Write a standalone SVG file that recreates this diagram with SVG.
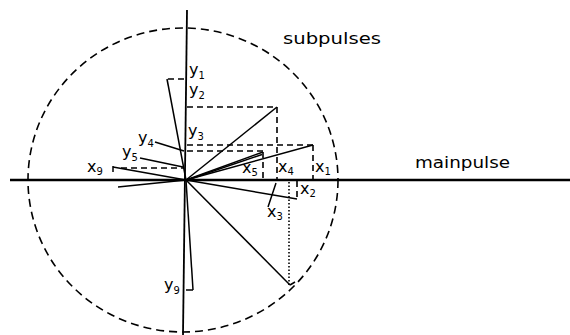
<svg xmlns="http://www.w3.org/2000/svg" width="570" height="335" viewBox="0 0 570 335">
<style>
.bg{fill:#fff}
.ax{stroke:#000;fill:none;stroke-linecap:butt}
.v{stroke:#000;stroke-width:1.5;fill:none}
.d{stroke:#000;stroke-width:1.6;fill:none;stroke-dasharray:6 4}
.o{stroke:#000;stroke-width:1.6;fill:none;stroke-dasharray:1.5 2}
.c{stroke:#000;stroke-width:1.6;fill:none;stroke-dasharray:8 5}
text{font-family:"DejaVu Sans","Liberation Sans",sans-serif;fill:#000}
.l{font-size:16px}
.s{font-size:10px}
.t{font-size:16px}
</style>
<rect class="bg" x="0" y="0" width="570" height="335"/>
<g id="circle"><ellipse class="c" cx="183" cy="180" rx="155" ry="152"/></g>
<g id="axes">
<line class="ax" x1="10" y1="180" x2="570" y2="180" stroke-width="2.6"/>
<line class="ax" x1="187" y1="10" x2="183" y2="335" stroke-width="1.8"/>
</g>
<g id="connectors">
<line class="v" x1="186" y1="180" x2="313" y2="145"/>
<line class="d" x1="187" y1="145" x2="313" y2="145"/>
<line class="d" x1="313" y1="145" x2="313" y2="180"/>
<line class="v" x1="186" y1="180" x2="277" y2="107"/>
<line class="d" x1="187" y1="107" x2="277" y2="107"/>
<line class="d" x1="277" y1="107" x2="277" y2="180"/>
<line class="v" x1="186" y1="180" x2="263" y2="152"/>
<line class="v" x1="190" y1="179" x2="262" y2="154.5" stroke-width="1.2"/>
<line class="d" x1="187" y1="151" x2="263" y2="151"/>
<line class="d" x1="263" y1="152" x2="263" y2="180"/>
<line class="v" x1="186" y1="180" x2="297" y2="199"/>
<line class="d" x1="297" y1="181" x2="297" y2="199"/>
<line class="v" x1="186" y1="180" x2="290" y2="285"/>
<line class="o" x1="289" y1="182" x2="289" y2="285"/>
<polyline class="v" points="290,285 295,282"/>
<line class="v" x1="268" y1="207" x2="276" y2="183" stroke-width="1.2"/>
<line class="v" x1="186" y1="180" x2="167" y2="79"/>
<line class="d" x1="168" y1="79" x2="186" y2="79"/>
<line class="v" x1="155" y1="142" x2="184" y2="151"/>
<line class="v" x1="140" y1="158" x2="183" y2="167"/>
<line class="v" x1="186" y1="180" x2="113" y2="167"/>
<line class="v" x1="113" y1="166" x2="113" y2="172"/>
<line class="d" x1="121" y1="168" x2="184" y2="168"/>
<line class="v" x1="186" y1="180" x2="118" y2="187"/>
<line class="v" x1="186" y1="180" x2="193" y2="290"/>
<line class="v" x1="186" y1="290" x2="193" y2="290"/>
</g>
<g id="labels">
<text class="t" x="283" y="44" textLength="98" lengthAdjust="spacingAndGlyphs">subpulses</text>
<text class="t" x="415" y="168" textLength="95" lengthAdjust="spacingAndGlyphs">mainpulse</text>
<text class="l" x="189" y="75">y<tspan class="s" dy="4">1</tspan></text>
<text class="l" x="189" y="95">y<tspan class="s" dy="4">2</tspan></text>
<text class="l" x="188" y="136">y<tspan class="s" dy="4">3</tspan></text>
<text class="l" x="138" y="143">y<tspan class="s" dy="4">4</tspan></text>
<text class="l" x="122" y="157">y<tspan class="s" dy="4">5</tspan></text>
<text class="l" x="164" y="290">y<tspan class="s" dy="4">9</tspan></text>
<text class="l" x="87" y="172">x<tspan class="s" dy="3">9</tspan></text>
<text class="l" x="242" y="173">x<tspan class="s" dy="3">5</tspan></text>
<text class="l" x="278" y="172">x<tspan class="s" dy="3">4</tspan></text>
<text class="l" x="315" y="172">x<tspan class="s" dy="3">1</tspan></text>
<text class="l" x="300" y="194">x<tspan class="s" dy="3">2</tspan></text>
<text class="l" x="267" y="217">x<tspan class="s" dy="3">3</tspan></text>
</g>
</svg>
